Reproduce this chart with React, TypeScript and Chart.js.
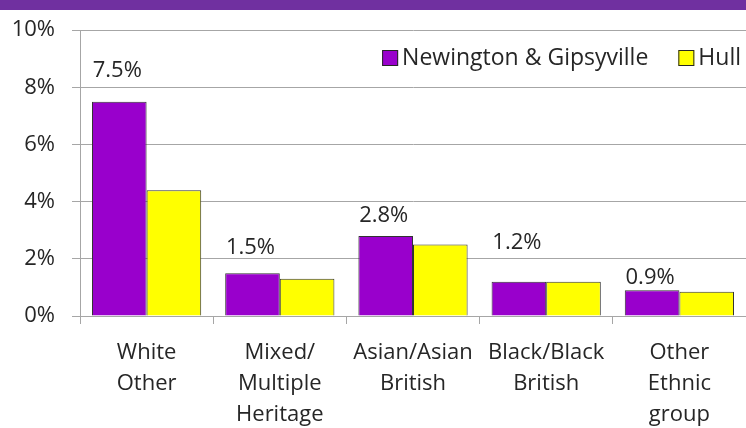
import React, { useEffect, useRef } from "react";
import { Chart, registerables } from "chart.js";

Chart.register(...registerables);

const categories: string[][] = [
  ["White", "Other"],
  ["Mixed/", "Multiple", "Heritage"],
  ["Asian/Asian", "British"],
  ["Black/Black", "British"],
  ["Other", "Ethnic", "group"],
];
const seriesNames = ["Newington & Gipsyville", "Hull"];
const newington = [7.5, 1.5, 2.8, 1.2, 0.9];
const hull = [4.4, 1.3, 2.5, 1.2, 0.85];
const yTickValues = [0, 2, 4, 6, 8, 10];
const labelLift = [31, 25, 20, 39, 13];

const FONT = "'Open Sans', Lato, sans-serif";
const PURPLE = "#9900CC";
const YELLOW = "#FFFF00";
const BAND = "#7030A0";
const GRID = "#A6A6A6";
const TEXT = "#262626";

export default function App() {
  const ref = useRef<HTMLCanvasElement | null>(null);

  useEffect(() => {
    document.body.style.margin = "0";
    const canvas = ref.current;
    if (!canvas) return;

    const bgPlugin = {
      id: "bg",
      beforeDraw(chart: any) {
        const ctx = chart.ctx;
        ctx.save();
        ctx.fillStyle = "#ffffff";
        ctx.fillRect(0, 0, chart.width, chart.height);
        ctx.fillStyle = BAND;
        ctx.fillRect(0, 0, chart.width, 10);
        ctx.restore();
      },
    };

    const labelPlugin = {
      id: "valueLabels",
      afterDatasetsDraw(chart: any) {
        const ctx = chart.ctx;
        const meta = chart.getDatasetMeta(0);
        ctx.save();
        ctx.font = `22px ${FONT}`;
        ctx.fillStyle = TEXT;
        ctx.textAlign = "center";
        ctx.textBaseline = "middle";
        meta.data.forEach((el: any, i: number) => {
          ctx.fillText(`${newington[i].toFixed(1)}%`, el.x - 2, el.y - labelLift[i]);
        });
        ctx.restore();
      },
    };

    const legendPlugin = {
      id: "customLegend",
      afterDraw(chart: any) {
        const ctx = chart.ctx;
        const area = chart.chartArea;
        const colors = [PURPLE, YELLOW];
        const box = 16;
        const gapBoxText = 4;
        const gapItems = 30;
        ctx.save();
        ctx.font = `23px ${FONT}`;
        ctx.textBaseline = "middle";
        ctx.textAlign = "left";
        const widths = seriesNames.map((s) => ctx.measureText(s).width);
        let total = 0;
        widths.forEach((w, i) => {
          total += box + gapBoxText + w + (i < widths.length - 1 ? gapItems : 0);
        });
        let x = area.right - 5 - total;
        const yc = 58;
        seriesNames.forEach((s, i) => {
          ctx.fillStyle = colors[i];
          ctx.fillRect(x, yc - box / 2, box, box);
          ctx.strokeStyle = "#262626";
          ctx.lineWidth = 1;
          ctx.strokeRect(x + 0.5, yc - box / 2 + 0.5, box - 1, box - 1);
          ctx.fillStyle = TEXT;
          ctx.fillText(s, x + box + gapBoxText, yc);
          x += box + gapBoxText + widths[i] + gapItems;
        });
        ctx.restore();
      },
    };

    const chart = new Chart(canvas, {
      type: "bar",
      data: {
        labels: categories,
        datasets: [
          {
            label: seriesNames[0],
            data: newington,
            backgroundColor: PURPLE,
            borderColor: "#333333",
            borderWidth: 1,
            categoryPercentage: 0.82,
            barPercentage: 1,
          },
          {
            label: seriesNames[1],
            data: hull,
            backgroundColor: YELLOW,
            borderColor: "#333333",
            borderWidth: 1,
            categoryPercentage: 0.82,
            barPercentage: 1,
          },
        ],
      },
      options: {
        responsive: true,
        maintainAspectRatio: false,
        animation: false,
        layout: { padding: { top: 26, right: 0, left: 0, bottom: 0 } },
        plugins: {
          legend: { display: false },
          tooltip: { enabled: false },
        },
        scales: {
          x: {
            offset: true,
            grid: {
              display: true,
              drawOnChartArea: false,
              offset: true,
              tickLength: 8,
              color: GRID,
            },
            border: { display: true, color: GRID },
            ticks: {
              font: { family: FONT, size: 22, lineHeight: 1.41 },
              color: TEXT,
              padding: 13,
              maxRotation: 0,
              autoSkip: false,
            },
            afterFit(scale: any) {
              scale.height = 112;
            },
          },
          y: {
            min: 0,
            max: 10,
            afterBuildTicks(scale: any) {
              scale.ticks = yTickValues.map((v) => ({ value: v }));
            },
            grid: { color: GRID, tickLength: 8 },
            border: { display: true, color: GRID },
            ticks: {
              font: { family: FONT, size: 22 },
              color: TEXT,
              padding: 17,
              callback: (v: any) => `${v}%`,
            },
            afterFit(scale: any) {
              scale.width = 80;
            },
          },
        },
      },
      plugins: [bgPlugin, labelPlugin, legendPlugin],
    });

    return () => chart.destroy();
  }, []);

  return (
    <div style={{ width: 746, height: 428, position: "relative" }}>
      <canvas ref={ref} />
    </div>
  );
}
